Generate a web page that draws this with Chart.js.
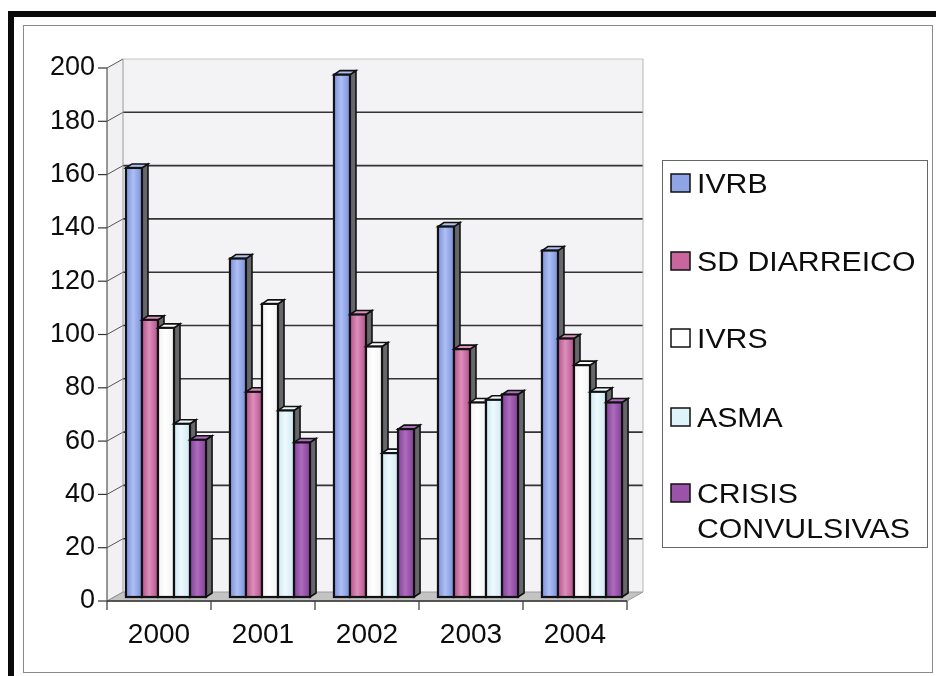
<!DOCTYPE html>
<html>
<head>
<meta charset="utf-8">
<script src="https://cdn.jsdelivr.net/npm/chart.js@4.4.1/dist/chart.umd.min.js"></script>
<style>
  html, body { margin: 0; padding: 0; background: #fff; }
  #wrap { width: 936px; height: 676px; position: relative; }
</style>
</head>
<body>
<div id="wrap"><canvas id="chart" width="936" height="676"></canvas></div>
<script>
const years = ['2000', '2001', '2002', '2003', '2004'];
const ivrb = [161, 127, 196, 139, 130];
const sdDiarreico = [104, 77, 106, 93, 97];
const ivrs = [101, 110, 94, 73, 87];
const asma = [65, 70, 54, 74, 77];
const crisisConvulsivas = [59, 58, 63, 76, 73];
const seriesNames = ['IVRB', 'SD DIARREICO', 'IVRS', 'ASMA', 'CRISIS CONVULSIVAS'];
const legendLines = [['IVRB'], ['SD DIARREICO'], ['IVRS'], ['ASMA'], ['CRISIS', 'CONVULSIVAS']];

// colours: base, light middle, dark edge
const seriesColors = ['#8fa4e7', '#c9669d', '#ffffff', '#def3fa', '#9a52ab'];
const seriesLight = ['#aebff3', '#dc8fbb', '#ffffff', '#eefafe', '#ad6cbd'];
const seriesDark = ['#7a8fdb', '#b5528a', '#f2f2f2', '#cde8f2', '#84409a'];

const FONT = "'Liberation Sans', Arial, sans-serif";
const BAR_DX = 6, BAR_DY = 4;     // bar depth
const FRONT_DX = -7, FRONT_DY = 4; // front plane vs bar plane
const BACK_DX = 9, BACK_DY = -5;   // back wall vs bar plane

function poly(ctx, pts, fill, stroke, lw) {
  ctx.beginPath();
  ctx.moveTo(pts[0][0], pts[0][1]);
  for (let i = 1; i < pts.length; i++) ctx.lineTo(pts[i][0], pts[i][1]);
  ctx.closePath();
  if (fill) { ctx.fillStyle = fill; ctx.fill(); }
  if (stroke) { ctx.strokeStyle = stroke; ctx.lineWidth = lw || 1; ctx.stroke(); }
}

function line(ctx, x1, y1, x2, y2, color, lw) {
  ctx.beginPath();
  ctx.moveTo(x1, y1);
  ctx.lineTo(x2, y2);
  ctx.strokeStyle = color;
  ctx.lineWidth = lw || 1;
  ctx.stroke();
}

// page frame
const framePlugin = {
  id: 'frame',
  beforeDraw(chart) {
    const ctx = chart.ctx;
    ctx.save();
    ctx.fillStyle = '#fff';
    ctx.fillRect(0, 0, chart.width, chart.height);
    ctx.fillStyle = '#0a0a0a';
    ctx.fillRect(8, 11, 6, chart.height - 11);
    ctx.fillRect(8, 11, chart.width - 8, 6);
    ctx.strokeStyle = '#8a8a8a';
    ctx.lineWidth = 1;
    ctx.strokeRect(23.5, 25.5, 909, 647);
    ctx.restore();
  }
};

// walls, floor, gridlines and axes of the 3D box
const wallPlugin = {
  id: 'walls',
  beforeDatasetsDraw(chart) {
    const ctx = chart.ctx;
    const { left, right, top, bottom } = chart.chartArea;
    const ys = chart.scales.y, xs = chart.scales.x;
    const fx0 = left + FRONT_DX, fx1 = right + FRONT_DX;
    const bx0 = left + BACK_DX, bx1 = right + BACK_DX;
    ctx.save();
    // side wall + back wall
    poly(ctx, [[fx0, top + FRONT_DY], [bx0, top + BACK_DY], [bx0, bottom + BACK_DY], [fx0, bottom + FRONT_DY]], '#f1f1f3');
    ctx.fillStyle = '#f3f3f5';
    ctx.fillRect(bx0, top + BACK_DY, bx1 - bx0, bottom - top);
    // floor
    poly(ctx, [[fx0, bottom + FRONT_DY], [fx1, bottom + FRONT_DY], [bx1, bottom + BACK_DY], [bx0, bottom + BACK_DY]], '#c3c3c3', '#9a9a9a', 1);

    // gridlines on the walls
    ys.ticks.forEach(t => {
      const py = ys.getPixelForValue(t.value);
      const topLine = t.value === ys.max;
      if (t.value > 0) {
        line(ctx, bx0, py + BACK_DY, bx1, py + BACK_DY, topLine ? '#c4c4c4' : '#333', topLine ? 1 : 1.6);
      }
      line(ctx, fx0, py + FRONT_DY, bx0, py + BACK_DY, t.value === 0 ? '#9a9a9a' : '#555', 1);
      line(ctx, fx0 - 9, py + FRONT_DY, fx0, py + FRONT_DY, '#333', 1.2);
    });
    // wall edges
    line(ctx, bx0, top + BACK_DY, bx0, bottom + BACK_DY, '#9a9a9a', 1);
    line(ctx, bx1, top + BACK_DY, bx1, bottom + BACK_DY, '#b5b5b5', 1);
    // front axes
    line(ctx, fx0, top + FRONT_DY, fx0, bottom + FRONT_DY, '#555', 1.2);
    line(ctx, fx0, bottom + FRONT_DY, fx1, bottom + FRONT_DY, '#333', 1.5);
    for (let i = 0; i <= years.length; i++) {
      const px = xs.getPixelForValue(i - 0.5) + FRONT_DX;
      line(ctx, px, bottom + FRONT_DY, px, bottom + FRONT_DY + 9, '#333', 1.2);
    }
    ctx.restore();
  }
};

// 3D faces of the bars, drawn left to right so nearer bars overlap correctly
const bars3dPlugin = {
  id: 'bars3d',
  afterDatasetsDraw(chart) {
    const ctx = chart.ctx;
    ctx.save();
    for (let i = 0; i < years.length; i++) {
      chart.data.datasets.forEach((ds, d) => {
        const el = chart.getDatasetMeta(d).data[i];
        const { x, y, base, width } = el.getProps(['x', 'y', 'base', 'width'], true);
        const l = x - width / 2, r = x + width / 2;
        poly(ctx, [[r, y], [r + BAR_DX, y - BAR_DY], [r + BAR_DX, base - BAR_DY], [r, base]], '#65676b', '#111', 1.6);
        poly(ctx, [[l, y], [l + BAR_DX, y - BAR_DY], [r + BAR_DX, y - BAR_DY], [r, y]], seriesLight[d], '#111', 1.6);
        const g = ctx.createLinearGradient(l, 0, r, 0);
        g.addColorStop(0, seriesDark[d]);
        g.addColorStop(0.45, seriesLight[d]);
        g.addColorStop(1, seriesDark[d]);
        ctx.fillStyle = g;
        ctx.fillRect(l, y, width, base - y);
        ctx.strokeStyle = '#111';
        ctx.lineWidth = 2.2;
        ctx.strokeRect(l, y, width, base - y);
      });
    }
    ctx.restore();
  }
};

// boxed legend on the right
const legendPlugin = {
  id: 'boxLegend',
  afterDraw(chart) {
    const ctx = chart.ctx;
    ctx.save();
    ctx.strokeStyle = '#666';
    ctx.lineWidth = 1;
    ctx.strokeRect(662.5, 160.5, 265, 387);
    const rowY = [183, 261, 338, 417, 493];
    ctx.font = '27px ' + FONT;
    ctx.textBaseline = 'alphabetic';
    chart.data.datasets.forEach((ds, d) => {
      const cy = rowY[d];
      ctx.fillStyle = seriesColors[d];
      ctx.fillRect(671, cy - 9, 19, 18);
      ctx.strokeStyle = '#111';
      ctx.lineWidth = 1.5;
      ctx.strokeRect(671, cy - 9, 19, 18);
      ctx.fillStyle = '#0d0d0d';
      legendLines[d].forEach((txt, k) => {
        ctx.save();
        ctx.translate(697, cy + 10 + k * 35);
        ctx.scale(1.12, 1);
        ctx.fillText(txt, 0, 0);
        ctx.restore();
      });
    });
    ctx.restore();
  }
};

const seriesData = [ivrb, sdDiarreico, ivrs, asma, crisisConvulsivas];

new Chart(document.getElementById('chart'), {
  type: 'bar',
  data: {
    labels: years,
    datasets: seriesData.map((values, d) => ({
      label: seriesNames[d],
      data: values,
      backgroundColor: seriesColors[d],
      borderColor: '#111',
      borderWidth: 2,
      categoryPercentage: 0.77,
      barPercentage: 1.0
    }))
  },
  options: {
    responsive: false,
    animation: false,
    devicePixelRatio: 1,
    layout: { padding: { left: 0, top: 64, right: 302, bottom: 0 } },
    plugins: {
      legend: { display: false },
      tooltip: { enabled: false }
    },
    scales: {
      x: {
        grid: { display: false, drawTicks: false },
        border: { display: false },
        ticks: { color: '#0d0d0d', font: { family: FONT, size: 28 }, padding: 21, labelOffset: -7 },
        afterFit: (scale) => { scale.height = 79; }
      },
      y: {
        min: 0,
        max: 200,
        grid: { display: false, drawTicks: false },
        border: { display: false },
        ticks: { stepSize: 20, color: '#0d0d0d', font: { family: FONT, size: 27 }, padding: 19, labelOffset: 4 },
        afterFit: (scale) => { scale.width = 114; }
      }
    }
  },
  plugins: [framePlugin, wallPlugin, bars3dPlugin, legendPlugin]
});
</script>
</body>
</html>
